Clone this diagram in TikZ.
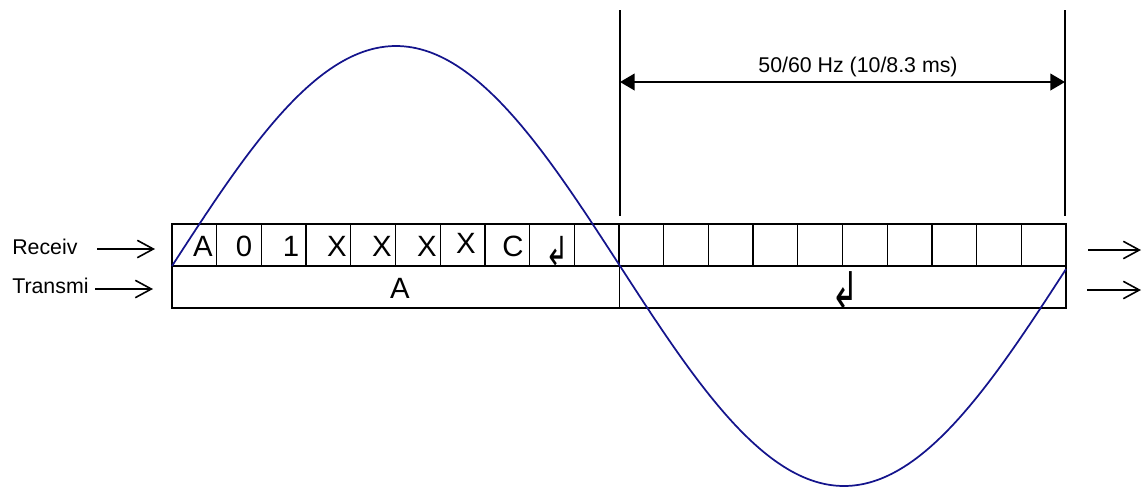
\documentclass[tikz,border=0pt]{standalone}
\usepackage{graphicx}
\usepackage{fontspec}
\setmainfont{Liberation Sans}
\newfontfamily\arrowfont{DejaVu Sans}
\usetikzlibrary{arrows.meta}
\definecolor{wavecolor}{RGB}{20,20,140}

\begin{document}
\begin{tikzpicture}[
    x=0.75pt, y=-0.75pt,
    boxline/.style={draw=black, line width=1.5pt},
    cellline/.style={draw=black, line width=1pt},
    inarr/.style={-{Straight Barb[length=12pt, width=13pt]}, line width=1.2pt},
    dimarr/.style={{Triangle[length=11pt, width=12.5pt]}-{Triangle[length=11pt, width=12.5pt]}, line width=1.5pt},
    celltext/.style={anchor=base, inner sep=0pt, font=\fontsize{22}{26}\selectfont},
    returntext/.style={anchor=center, inner sep=0pt},
    labeltext/.style={anchor=base west, inner sep=0pt, font=\fontsize{16}{19}\selectfont},
    wave/.style={draw=wavecolor, line width=1.3pt}
  ]
  \useasboundingbox (0,0) rectangle (1143,487);

  % shift register frame
  \foreach \i in {1,...,19}
    \draw[cellline] ({172+44.7*\i},224) -- ({172+44.7*\i},266);
  \draw[cellline] (619.5,266) -- (619.5,308);
  \draw[boxline] (172,224) rectangle (1066,308);
  \draw[boxline] (172,266) -- (1066,266);

  % cell contents
  \node[celltext] (c1) at (203,256) {A};
  \node[celltext] (c2) at (244,256) {0};
  \node[celltext] (c3) at (291,256) {1};
  \node[celltext] (c4) at (337,256) {X};
  \node[celltext] (c5) at (382,256) {X};
  \node[celltext] (c6) at (427,256) {X};
  \node[celltext] (c7) at (466,253) {X};
  \node[celltext] (c8) at (513,256) {C};
  \node[returntext, font=\arrowfont\fontsize{30}{36}\selectfont] (c9) at (557,251.5) {\scalebox{0.7}[1]{↲}};
  \node[celltext] (txA) at (400,298) {A};
  \node[returntext, font=\arrowfont\fontsize{38}{44}\selectfont] (txret) at (845,290.5) {\scalebox{0.65}[1]{↲}};

  % line labels
  \node[labeltext] (rxlabel) at (12,254) {Receiv};
  \node[labeltext] (txlabel) at (12,293) {Transmi};

  \coordinate (rxfrom) at (97,249);
  \coordinate (rxto) at (155,249);
  \coordinate (txfrom) at (95,289);
  \coordinate (txto) at (153,289);
  \coordinate (rxoutfrom) at (1088,250);
  \coordinate (rxoutto) at (1141,250);
  \coordinate (txoutfrom) at (1087,290);
  \coordinate (txoutto) at (1141,290);

  \draw[inarr] (rxfrom) -- (rxto);
  \draw[inarr] (txfrom) -- (txto);
  \draw[inarr] (rxoutfrom) -- (rxoutto);
  \draw[inarr] (txoutfrom) -- (txoutto);

  % period marker
  \coordinate (halfstart) at (620,10);
  \coordinate (halfend) at (1065,10);
  \draw[line width=1.5pt] (halfstart) -- (620,216);
  \draw[line width=1.5pt] (halfend) -- (1065,216);
  \coordinate (dimleft) at (620,82);
  \coordinate (dimright) at (1065,82);
  \draw[dimarr] (dimleft) -- (dimright);
  \node[anchor=base, inner sep=0pt, font=\fontsize{16}{19}\selectfont] (period) at (858,72.5) {50/60 Hz (10/8.3 ms)};

  % mains wave
  \draw[wave] plot[domain=172:1066, samples=160, smooth] (\x, {266-220*sin((\x-172)/448*180)});

\end{tikzpicture}
\end{document}
